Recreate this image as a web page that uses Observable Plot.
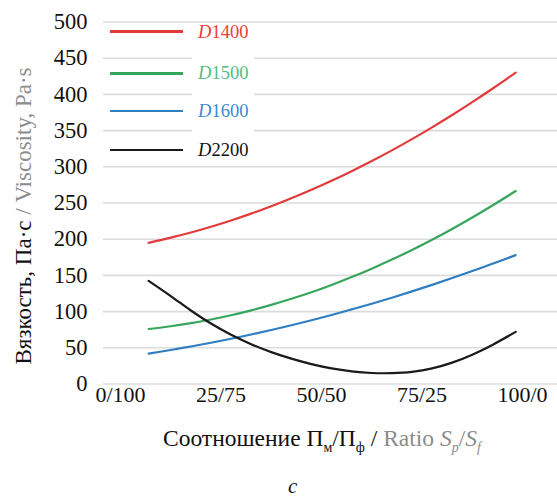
<!DOCTYPE html>
<html>
<head>
<meta charset="utf-8">
<script src="https://cdn.jsdelivr.net/npm/d3@7"></script>
<script src="https://cdn.jsdelivr.net/npm/@observablehq/plot@0.6"></script>
<style>
  body { margin: 0; background: #fff; }
  #wrap { position: relative; width: 557px; height: 498px; overflow: hidden; background: #fff;
          font-family: 'Liberation Serif', 'DejaVu Serif', 'Noto Serif', 'Times New Roman', serif; color: #111; }
  #chart svg { display: block; }
  .legend-box { position: absolute; left: 192px; top: 24px; width: 62px; height: 138px; background: #fff; }
  .sw { position: absolute; left: 110px; width: 73px; height: 2.5px; }
  .lab { position: absolute; left: 198px; font-size: 18.5px; line-height: 18px; white-space: nowrap; }
  .lab i { font-style: italic; }
  #xlabel { position: absolute; left: 163px; top: 427px; font-size: 23.5px; line-height: 23px; white-space: nowrap; }
  #xlabel .sub { font-size: 14px; position: relative; top: 6px; }
  #xlabel .gray { color: #8c8c8c; }
  #caption { position: absolute; left: 288px; top: 476px; font-size: 21px; line-height: 21px; font-style: italic; }
</style>
</head>
<body>
<div id="wrap">
  <div id="chart"></div>
  <div id="legend"></div>
  <div id="xlabel">Соотношение П<span class="sub">м</span>/П<span class="sub">ф</span> / <span class="gray">Ratio <i>S</i><span class="sub"><i>p</i></span>/<i>S</i><span class="sub"><i>f</i></span></span></div>
  <div id="caption">c</div>
</div>
<script>
// ---- data ----
const ratioX = [7, 12.5, 17.5, 22.5, 27.5, 32.5, 37.5, 42.5, 47.5, 52.5, 57.5, 62.5, 67.5, 72.5, 77.5, 82.5, 87.5, 92.5, 98.3];
const d1400 = [195, 202.1, 209.3, 217.2, 225.9, 235.3, 245.5, 256.5, 268.2, 280.6, 293.9, 307.9, 322.7, 338.2, 354.5, 371.5, 389.3, 407.8, 430];
const d1500 = [76, 79.8, 84.0, 89.1, 94.9, 101.7, 109.3, 117.7, 126.8, 136.8, 147.7, 159.3, 171.8, 185.1, 199.2, 214.1, 229.9, 246.5, 266.5];
const d1600 = [42, 47, 51.8, 57, 62.5, 68.4, 74.6, 81.2, 88.1, 95.3, 103, 110.9, 119.2, 127.9, 136.9, 146.3, 156, 166, 178];
const d2200 = [142.5, 121.5, 101.5, 83.5, 68, 55, 44, 35, 27.5, 21.5, 17.5, 15.2, 15, 16.8, 21.5, 29.5, 40.5, 54, 72];
const seriesNames = ["D1400", "D1500", "D1600", "D2200"];
const xTickValues = [0, 25, 50, 75, 100];
const xTickLabels = ["0/100", "25/75", "50/50", "75/25", "100/0"];
const yTickValues = [0, 50, 100, 150, 200, 250, 300, 350, 400, 450, 500];

// ---- styling config ----
const serif = "'Liberation Serif', 'DejaVu Serif', 'Noto Serif', 'Times New Roman', serif";
const lineColors = ["#e23b3b", "#36a65c", "#2f7ec2", "#1a1a1a"];
const labelColors = ["#ee3a3a", "#52bd84", "#3a8ad2", "#111111"];

const seriesValues = [d1400, d1500, d1600, d2200];
const rows = [];
seriesNames.forEach((name, i) => {
  seriesValues[i].forEach((v, j) => rows.push({ series: name, x: ratioX[j], y: v }));
});

const plot = Plot.plot({
  width: 557,
  height: 420,
  marginLeft: 103,
  marginRight: 0,
  marginTop: 21.5,
  marginBottom: 36.5,
  style: { fontFamily: serif, fontSize: "22px", color: "#111", background: "transparent", overflow: "visible" },
  x: { domain: [-4.23, 108.7] },
  y: { domain: [0, 500] },
  color: { domain: seriesNames, range: lineColors },
  marks: [
    Plot.gridY(yTickValues, { stroke: "#dcdcdc", strokeOpacity: 1, strokeWidth: 1.6 }),
    Plot.axisY({ ticks: yTickValues, tickSize: 0, tickPadding: 16, label: null, fontSize: 22.5 }),
    Plot.axisX({ ticks: xTickValues, tickFormat: (d) => xTickLabels[xTickValues.indexOf(d)], tickSize: 0, tickPadding: 2, label: null, fontSize: 22 }),
    Plot.line(rows, { x: "x", y: "y", z: "series", stroke: "series", curve: "catmull-rom", strokeWidth: 2.2 })
  ]
});
document.getElementById("chart").appendChild(plot);

// y-axis title with two colours
const svg = d3.select(plot);
const yt = svg.append("text")
  .attr("transform", "translate(31,216) rotate(-90)")
  .attr("text-anchor", "middle")
  .attr("font-size", 23)
  .style("font-family", serif);
yt.append("tspan").attr("fill", "#111").text("Вязкость, Па·с ");
yt.append("tspan").attr("fill", "#8c8c8c").text("/ Viscosity, Pa·s");

// legend
const legend = document.getElementById("legend");
const box = document.createElement("div");
box.className = "legend-box";
legend.appendChild(box);
const legendY = [31.5, 73.3, 111, 150];
seriesNames.forEach((name, i) => {
  const sw = document.createElement("div");
  sw.className = "sw";
  sw.style.top = (legendY[i] - 1.25) + "px";
  sw.style.background = lineColors[i];
  legend.appendChild(sw);
  const lab = document.createElement("div");
  lab.className = "lab";
  lab.style.top = (legendY[i] - 9) + "px";
  lab.style.color = labelColors[i];
  lab.innerHTML = "<i>" + name[0] + "</i>" + name.slice(1);
  legend.appendChild(lab);
});
</script>
</body>
</html>
